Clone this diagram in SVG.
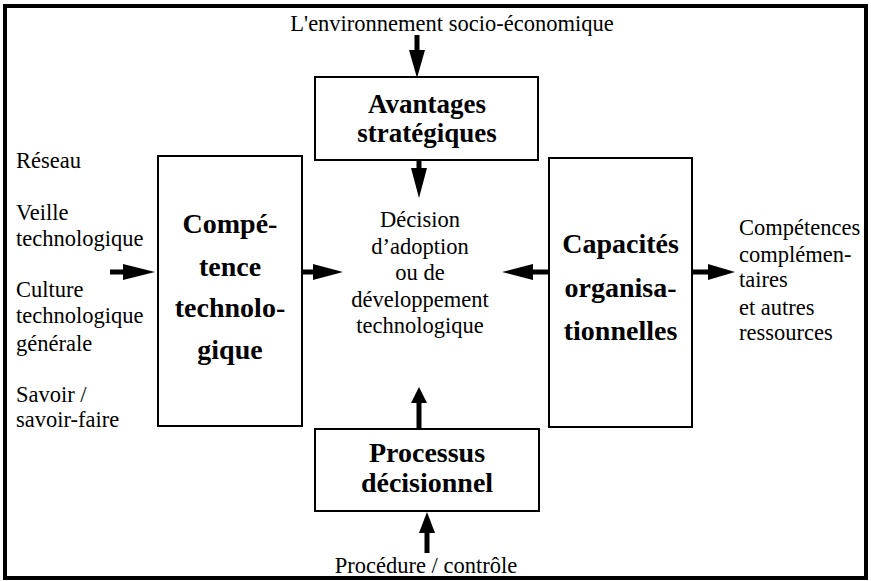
<svg xmlns="http://www.w3.org/2000/svg" width="871" height="581" viewBox="0 0 871 581">
<style>
.box{fill:#fff;stroke:#000;stroke-width:2}
.b{font-family:"Liberation Serif","Times New Roman",serif;font-weight:bold;fill:#000;text-anchor:middle}
.t{font-family:"Liberation Serif","Times New Roman",serif;font-size:22.5px;fill:#000}
.c{text-anchor:middle}
.sh{stroke:#000;stroke-width:5;fill:none}
.hd{fill:#000;stroke:none}
</style>
<rect x="5" y="6" width="861" height="572" fill="#fff" stroke="#000" stroke-width="4"/>

<g id="connectors">
<line class="sh" x1="417" y1="35" x2="417" y2="52"/>
<polygon class="hd" points="409,50 425,50 417,78"/>
<line class="sh" x1="419" y1="160" x2="419" y2="170"/>
<polygon class="hd" points="411,168 427,168 419,198"/>
<line class="sh" x1="110" y1="272" x2="125" y2="272"/>
<polygon class="hd" points="123,264 123,280 155,272"/>
<line class="sh" x1="302" y1="272" x2="315" y2="272"/>
<polygon class="hd" points="313,264 313,280 343,272"/>
<line class="sh" x1="549" y1="272" x2="531" y2="272"/>
<polygon class="hd" points="533,264 533,280 502,272"/>
<line class="sh" x1="692" y1="272" x2="710" y2="272"/>
<polygon class="hd" points="708,264 708,280 735,272"/>
<line class="sh" x1="419" y1="429" x2="419" y2="401"/>
<polygon class="hd" points="411,403 427,403 419,387"/>
<line class="sh" x1="427" y1="553" x2="427" y2="531"/>
<polygon class="hd" points="419,533 435,533 427,512"/>
</g>

<g id="env"><text class="t c" x="452" y="31">L'environnement socio-économique</text></g>

<g id="avantages">
<rect class="box" x="315" y="77" width="223" height="83"/>
<text class="b" x="427" y="113" font-size="27">Avantages</text>
<text class="b" x="427" y="142" font-size="27">stratégiques</text>
</g>

<g id="competence">
<rect class="box" x="158" y="156" width="144" height="270"/>
<text class="b" x="230" y="233" font-size="28">Compé-</text>
<text class="b" x="230" y="276" font-size="28">tence</text>
<text class="b" x="230" y="317" font-size="28">technolo-</text>
<text class="b" x="230" y="359" font-size="28">gique</text>
</g>

<g id="capacites">
<rect class="box" x="549" y="158" width="143" height="269"/>
<text class="b" x="620.5" y="253" font-size="28">Capacités</text>
<text class="b" x="620.5" y="297" font-size="28">organisa-</text>
<text class="b" x="620.5" y="340" font-size="28">tionnelles</text>
</g>

<g id="processus">
<rect class="box" x="315" y="429" width="224" height="82"/>
<text class="b" x="427" y="462" font-size="28">Processus</text>
<text class="b" x="427" y="492" font-size="28">décisionnel</text>
</g>

<g id="decision">
<text class="t c" x="420" y="227">Décision</text>
<text class="t c" x="420" y="254">d’adoption</text>
<text class="t c" x="420" y="280">ou de</text>
<text class="t c" x="420" y="307">développement</text>
<text class="t c" x="420" y="333">technologique</text>
</g>

<g id="inputs-left">
<text class="t" x="16" y="168">Réseau</text>
<text class="t" x="16" y="220">Veille</text>
<text class="t" x="16" y="246">technologique</text>
<text class="t" x="16" y="297">Culture</text>
<text class="t" x="16" y="323">technologique</text>
<text class="t" x="16" y="351">générale</text>
<text class="t" x="16" y="402">Savoir /</text>
<text class="t" x="16" y="427">savoir-faire</text>
</g>

<g id="outputs-right">
<text class="t" x="739" y="235">Compétences</text>
<text class="t" x="739" y="262">complémen-</text>
<text class="t" x="739" y="287">taires</text>
<text class="t" x="739" y="315">et autres</text>
<text class="t" x="739" y="340">ressources</text>
</g>

<g id="procedure"><text class="t c" x="426" y="573">Procédure / contrôle</text></g>
</svg>
